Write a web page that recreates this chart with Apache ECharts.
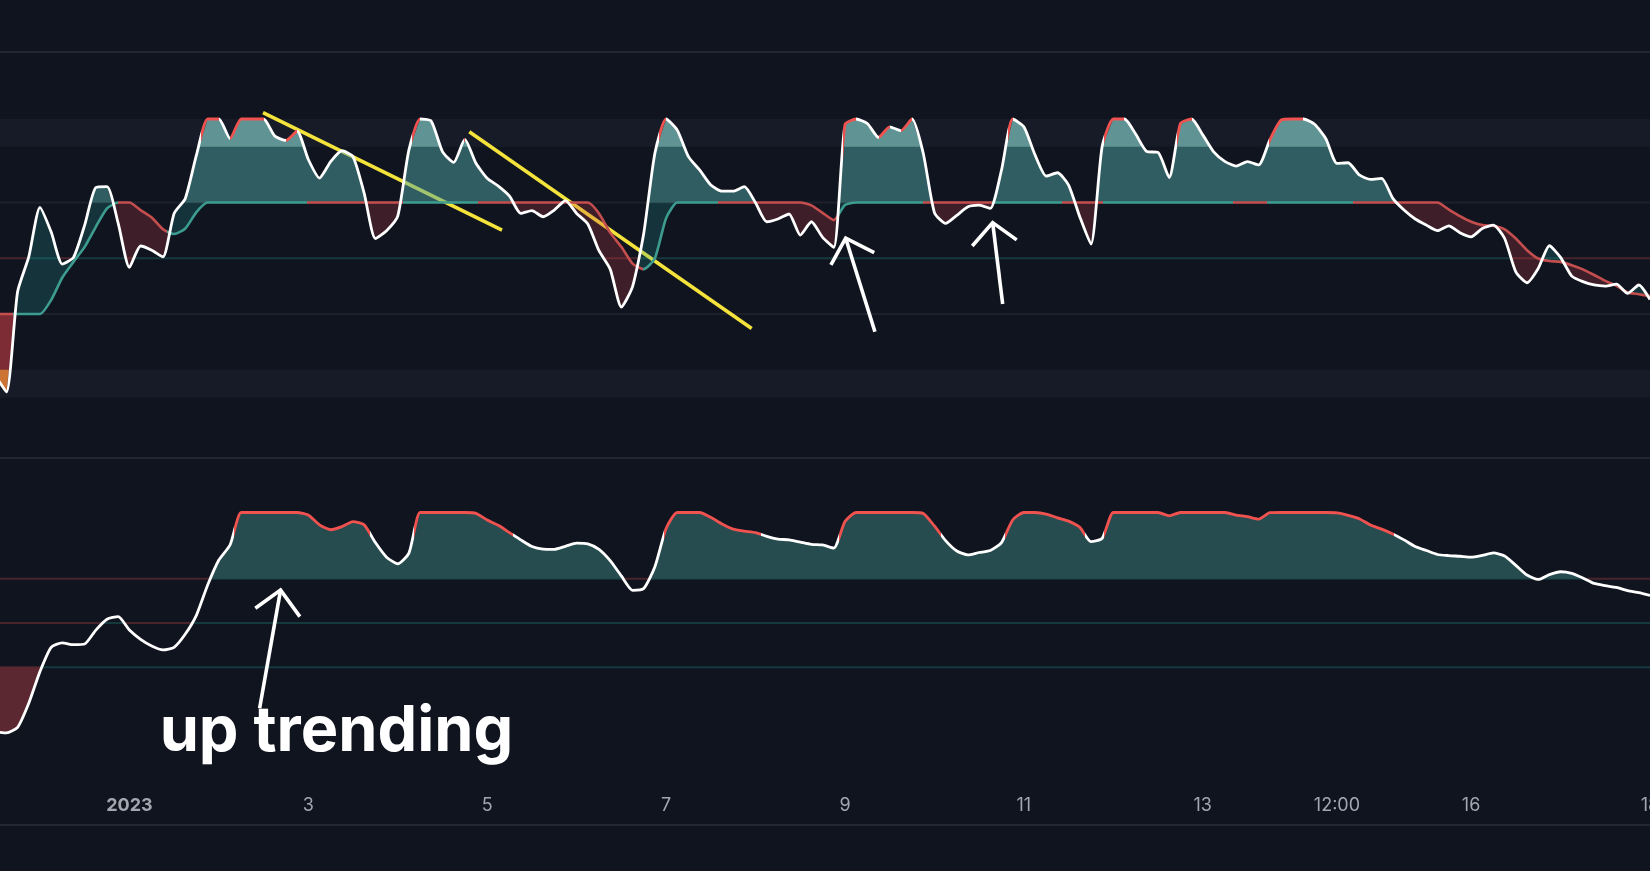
<!DOCTYPE html>
<html>
<head>
<meta charset="utf-8">
<script src="https://cdn.jsdelivr.net/npm/echarts@6/dist/echarts.min.js"></script>
<style>
html,body{margin:0;padding:0;background:#10141f;overflow:hidden}
#chart{width:1650px;height:871px}
</style>
</head>
<body>
<div id="chart"></div>
<script>
// ---------------- data (3-hour samples, day 1 = 2023-01-01 00:00) ----------------
const sampleStartDay = -0.5;
const sampleStepDay = 0.125;

// upper panel: fast oscillator (white line)
const oscFast = [
  8,2,38,50.5,68.3,59.5,47.9,50.3,61.9,75.4,
  75.7,62.5,46.7,54.4,52.9,50.5,66.1,71.5,87.1,100,
  100,93,100,100,100,93.9,92.3,95.6,85.5,78.8,
  84.7,88.6,86.5,73.3,57.1,59.9,65.1,88.9,100,99.2,
  88.3,84.4,92.7,84.1,78.7,75.9,72.3,66.1,67.1,64.9,
  67.3,70.7,66.1,62.3,52.7,46.1,32.5,39.8,58.9,87.7,
  100,96,86.5,81.7,76.3,74.1,74.1,75.7,69.9,63.1,
  64.1,65.9,58.3,63.1,57.5,53.9,98,100,98.4,93.4,
  97.2,95.8,100,87.7,66.4,62.5,65.4,68.5,69.1,67.9,
  81.7,100,97.2,87.1,79.5,80.7,76.3,64.9,55.1,90.1,
  100,100,94.6,88.3,88,79,98.4,100,94.3,88.1,
  84.7,83.1,84.7,83.5,92.5,99.6,100,100,98.1,93,
  84.1,84.3,79.9,78.3,78.7,71.5,67.3,64.1,61.9,59.9,
  61.6,59.2,57.7,60.7,61.9,57.1,45.1,41.2,46.3,54.5,
  50.3,43.6,41.6,40.4,40,40.7,37.4,40.4,35.2
];
// upper panel: signal line
const oscSignal = [
  30,30,30,30,30,35,43.1,48.7,54.1,61.3,
  67.9,70,70,67.3,64.6,60.4,58.7,60.7,66.6,70,
  70,70,70,70,70,70,70,70,70,70,
  70,70,70,70,70,70,70,70,70,70,
  70,70,70,70,70,70,70,70,70,70,
  70,70,70,70,66.1,59.2,54.1,48.1,46.1,50,
  64.4,70,70,70,70,70,70,70,70,70,
  70,70,70,69,66.3,63.7,69.1,70,70,70,
  70,70,70,70,70,70,70,70,70,70,
  70,70,70,70,70,70,70,70,70,70,
  70,70,70,70,70,70,70,70,70,70,
  70,70,70,70,70,70,70,70,70,70,
  70,70,70,70,70,70,70,70,70,70,
  67.5,65.1,63.1,61.9,61.6,60.4,57.1,52.9,49.9,49.0,
  48.7,47.5,46.0,44.0,41.9,40.1,37.7,37.1,36.4
];
// lower panel: trend oscillator
const trendOsc = [
  0.8,0.3,2.8,13.7,28,39,41,40.2,40.5,46.8,
  51.7,52.9,46.8,42.6,39.6,37.8,39,45,53.6,67.2,
  78.5,85.3,100,100,100,100,100,100,98.9,94.4,
  92.2,93.6,95.9,94.4,86.4,79.8,76.8,81.6,100,100,
  100,100,100,99.6,96.6,94.2,90.9,87.6,84.6,83.4,
  83.3,84.7,86.1,85.8,83.3,78.2,71.3,64.8,65.6,75.5,
  92.8,100,100,100,97.8,94.8,92.5,91.6,90.9,89.2,
  88,87.6,86.6,85.6,85.3,83.9,95.9,100,100,100,
  100,100,100,99.6,93.9,87.3,82.6,80.8,81.9,82.8,
  86.4,96.6,100,100,99.3,97.6,96.1,93.3,86.8,88.3,
  100,100,100,100,100,98.5,100,100,100,100,
  100,98.8,98.1,97,99.9,100,100,100,100,100,
  99.8,98.7,97.2,94.3,92.5,90.3,87.6,84.6,82.8,81,
  80.5,80.2,79.8,80.6,81.7,80.3,76.1,71.7,69.7,71.9,
  73.2,72.5,70.4,67.9,66.9,66.1,64.6,63.7,62.5
];

// x-axis ticks (days) and their labels (the last one sits on the right edge)
const tickDays = [1,3,5,7,9,11,13,14.5,16];
const tickLabels = ['2023','3','5','7','9','11','13','12:00','16'];
const edgeTickDay = 18;
const edgeTickLabel = '18';

// periods (days) where the signal line is drawn in its "up" colour
const signalUpRanges = [[-0.301,0.872],[1.420,2.985],[4.059,4.897],[6.742,7.580],
  [8.922,9.872],[10.643,11.426],[11.884,13.337],[13.718,14.679]];

// levels
const topBands = [[90,100],[0,10]];
const topGreyLevels = [70,30];
const topMidLevel = 50;
const bottomLevels = [70,50,30];

// hand-drawn annotations, in [day, value]
const trendLines = [[[2.494,102.3],[5.166,60.1]],[[4.800,95.4],[7.957,24.8]]];
const topArrows = [
  {tail:[9.335,23.6], tip:[9.008,57.2], w1:[8.843,47.6], w2:[9.327,52.0]},
  {tail:[10.763,33.6], tip:[10.651,62.8], w1:[10.423,54.4], w2:[10.920,56.6]}
];
const bottomArrows = [
  {tail:[2.456,11.4], tip:[2.690,64.9], w1:[2.408,56.7], w2:[2.906,52.9]}
];
const noteText = 'up trending';
const notePos = [1.338, -9.7];

// ---------------- setup ----------------
const DAY = 86400000;
const T0 = Date.UTC(2023, 0, 1);
const t = d => T0 + (d - 1) * DAY;
const X_MIN_DAY = -0.4466, X_MAX_DAY = 18;
const X_MIN = t(X_MIN_DAY), X_MAX = t(X_MAX_DAY);

const xs = oscFast.map((_, i) => t(sampleStartDay + i * sampleStepDay));
const pair = arr => arr.map((v, i) => [xs[i], v]);
const SM = 0.2;
const RED = '#f0524f';
const LABEL_COLOR = '#a3a6af';
const constArr = v => xs.map(() => v);

function thresholdRanges(xv, yv, thr, above) {
  const out = [];
  const inside = y => above ? y >= thr : y < thr;
  let cur = null;
  for (let i = 0; i < yv.length; i++) {
    const ins = inside(yv[i]);
    if (i === 0) {
      if (ins) cur = [xv[0] - 2 * DAY, xv[0]];
    } else if (ins !== inside(yv[i - 1])) {
      const a = yv[i - 1], b = yv[i];
      const xc = xv[i - 1] + (thr - a) / (b - a) * (xv[i] - xv[i - 1]);
      if (ins) cur = [xc, xc];
      else { cur[1] = xc; out.push(cur); cur = null; }
    }
    if (ins && cur) cur[1] = xv[i];
  }
  if (cur) { cur[1] = xv[xv.length - 1] + 2 * DAY; out.push(cur); }
  return out;
}
function risingCapRanges(xv, yv, thr) {
  const segs = [];
  for (let i = 0; i < yv.length - 1; i++) {
    const a = yv[i], b = yv[i + 1];
    if (b >= a - 0.3 && b >= thr) {
      let x0 = xv[i];
      if (a < thr) x0 = xv[i] + (thr - a) / (b - a) * (xv[i + 1] - xv[i]);
      segs.push([x0, xv[i + 1]]);
    }
  }
  const out = [];
  segs.forEach(s => {
    const last = out[out.length - 1];
    if (last && Math.abs(last[1] - s[0]) < 1) last[1] = s[1]; else out.push(s.slice());
  });
  return out;
}

const series = [];
const visualMaps = [];
function ls(xi, data, extra) {
  return Object.assign({type:'line', xAxisIndex:xi, yAxisIndex:xi, data:data, symbol:'none',
    showSymbol:false, smooth:SM, silent:true, animation:false, z:2}, extra || {});
}
function add(s) { series.push(s); return series.length - 1; }
function addVM(idx, ranges, inColor, outColor) {
  visualMaps.push({type:'piecewise', show:false, seriesIndex:idx, dimension:0,
    pieces: ranges.map(r => ({gt:r[0], lte:r[1], color:inColor})),
    outOfRange:{color:outColor}});
}
// area between two sampled curves, where upper > lower (drawn through api.coord)
function addFill(xi, upper, lower, color) {
  add({type:'custom', xAxisIndex:xi, yAxisIndex:xi, silent:true, animation:false, z:2, clip:true,
    data:[[xs[0], lower[0]]],
    renderItem: function (params, api) {
      const P = (x, y) => api.coord([x, y]);
      const polys = [];
      let up = null, lo = null;
      for (let i = 0; i < xs.length; i++) {
        const d = upper[i] - lower[i];
        if (i > 0) {
          const dp = upper[i - 1] - lower[i - 1];
          if ((dp > 0) !== (d > 0)) {
            const f = dp / (dp - d);
            const c = P(xs[i - 1] + f * (xs[i] - xs[i - 1]), upper[i - 1] + f * (upper[i] - upper[i - 1]));
            if (d > 0) { up = [c]; lo = []; }
            else if (up) { up.push(c); polys.push(up.concat(lo.reverse())); up = null; lo = null; }
          }
        }
        if (d > 0) {
          if (!up) { up = []; lo = []; }
          up.push(P(xs[i], upper[i])); lo.push(P(xs[i], lower[i]));
        }
      }
      if (up) polys.push(up.concat(lo.reverse()));
      return {type:'group', children: polys.map(pts => ({type:'polygon', shape:{points:pts}, style:{fill:color}}))};
    }
  });
}
const flat = (L) => [[t(-2), L], [t(20), L]];

// ---- upper panel ----
add(ls(0, flat(topGreyLevels[0]), {lineStyle:{color:'rgba(255,255,255,0.06)', width:2}, z:0,
  markArea:{silent:true, itemStyle:{color:'#171b27'}, data: topBands.map(b => [{yAxis:b[0]},{yAxis:b[1]}])}}));
add(ls(0, flat(topGreyLevels[1]), {lineStyle:{color:'rgba(255,255,255,0.06)', width:2}, z:1}));
const i50 = add(ls(0, flat(topMidLevel), {lineStyle:{width:2}, z:1}));
addVM(i50, thresholdRanges(xs, oscFast, topMidLevel, false), 'rgba(240,83,80,0.25)', 'rgba(38,166,154,0.25)');

addFill(0, oscFast, oscSignal, 'rgba(38,166,154,0.22)');
addFill(0, oscSignal, oscFast, 'rgba(200,60,70,0.25)');
addFill(0, oscFast, constArr(70), 'rgba(100,170,165,0.36)');
addFill(0, oscFast, constArr(90), 'rgba(140,200,195,0.5)');
addFill(0, constArr(30), oscFast, 'rgba(200,60,70,0.46)');
addFill(0, constArr(10), oscFast, 'rgba(230,140,50,0.75)');

const iSig = add(ls(0, pair(oscSignal), {lineStyle:{width:2.6}, z:3}));
addVM(iSig, signalUpRanges.map(r => [t(r[0]), t(r[1])]), '#3b9c8f', '#c44e4e');
const iFast = add(ls(0, pair(oscFast), {lineStyle:{width:2.8}, z:4}));
addVM(iFast, risingCapRanges(xs, oscFast, 92), RED, '#ffffff');

// ---- lower panel ----
bottomLevels.forEach(L => {
  const idx = add(ls(1, flat(L), {lineStyle:{width:2}, z:1}));
  addVM(idx, thresholdRanges(xs, trendOsc, L, false), 'rgba(240,83,80,0.25)', 'rgba(38,166,154,0.25)');
});
addFill(1, trendOsc, constArr(70), '#274c50');
addFill(1, constArr(30), trendOsc, '#5b2730');
const iTrend = add(ls(1, pair(trendOsc), {lineStyle:{width:2.8}, z:4}));
addVM(iTrend, thresholdRanges(xs, trendOsc, 90, true), RED, '#ffffff');

const LABEL_MARGIN = 10, LABEL_FS = 18;
const chart = echarts.init(document.getElementById('chart'));
chart.setOption({
  backgroundColor:'#10141f',
  animation:false,
  grid:[{left:0, right:0, top:52, height:406}, {left:0, right:0, top:458, height:367}],
  xAxis:[
    {type:'time', gridIndex:0, min:X_MIN, max:X_MAX, show:false},
    {type:'time', gridIndex:1, min:X_MIN, max:X_MAX, show:false, position:'top'},
    {type:'value', gridIndex:1, min:X_MIN_DAY, max:X_MAX_DAY, position:'bottom',
      axisLine:{show:true, lineStyle:{color:'#2a2e39', width:1.5}},
      axisTick:{show:false}, splitLine:{show:false},
      axisLabel:{inside:true, margin:LABEL_MARGIN, customValues: tickDays, color:LABEL_COLOR,
        fontSize:LABEL_FS, fontFamily:'Inter', hideOverlap:false, showMinLabel:true, showMaxLabel:true,
        formatter: function (v) {
          let best = 0, bd = Infinity;
          tickDays.forEach((d, i) => { const dd = Math.abs(d - v); if (dd < bd) { bd = dd; best = i; } });
          return best === 0 ? '{b|' + tickLabels[0] + '}' : tickLabels[best];
        },
        rich:{b:{fontWeight:'bold', fontSize:LABEL_FS, fontFamily:'Inter', color:LABEL_COLOR}}}
    }
  ],
  yAxis:[
    {type:'value', gridIndex:0, min:-21.72, max:124.06, show:false},
    {type:'value', gridIndex:1, min:-41.4, max:124.66, show:false}
  ],
  visualMap: visualMaps,
  series: series
});

// ---- annotations (positioned through the axes) ----
function px(g, p) { return chart.convertToPixel({xAxisIndex:g, yAxisIndex:g}, [t(p[0]), p[1]]); }
const gr = [];
gr.push({type:'line', silent:true, z:0, shape:{x1:0, y1:52, x2:1650, y2:52}, style:{stroke:'#2a2e39', lineWidth:1.5}});
gr.push({type:'line', silent:true, z:0, shape:{x1:0, y1:458, x2:1650, y2:458}, style:{stroke:'#2a2e39', lineWidth:1.5}});
trendLines.forEach(l => {
  const a = px(0, l[0]), b = px(0, l[1]);
  gr.push({type:'line', silent:true, z:1.5, shape:{x1:a[0], y1:a[1], x2:b[0], y2:b[1]},
    style:{stroke:'#f4e33b', lineWidth:3.6}});
});
function arrow(g, a) {
  const tail = px(g, a.tail), tip = px(g, a.tip), w1 = px(g, a.w1), w2 = px(g, a.w2);
  gr.push({type:'line', silent:true, z:10, shape:{x1:tail[0], y1:tail[1], x2:tip[0], y2:tip[1]},
    style:{stroke:'#ffffff', lineWidth:3.6}});
  gr.push({type:'polyline', silent:true, z:10, shape:{points:[w1, tip, w2]},
    style:{stroke:'#ffffff', lineWidth:3.6, fill:null, lineJoin:'miter'}});
}
topArrows.forEach(a => arrow(0, a));
bottomArrows.forEach(a => arrow(1, a));
const np = px(1, notePos);
const FS = 63;
gr.push({type:'text', silent:true, z:10, style:{text:noteText, x:np[0], y:np[1] - 0.36 * FS,
  font:'bold ' + FS + 'px Inter', fill:'#ffffff', align:'left', verticalAlign:'middle'}});
// edge tick label, centred on its tick and cut by the chart edge
const edgeX = chart.convertToPixel({xAxisIndex:2}, edgeTickDay);
const axisY = chart.convertToPixel({yAxisIndex:1}, -41.4);
gr.push({type:'text', silent:true, z:10, style:{text:edgeTickLabel, x:edgeX, y:axisY - LABEL_MARGIN - LABEL_FS / 2,
  font:LABEL_FS + 'px Inter', fill:LABEL_COLOR, align:'center', verticalAlign:'middle'}});
chart.setOption({graphic: gr});
</script>
</body>
</html>
